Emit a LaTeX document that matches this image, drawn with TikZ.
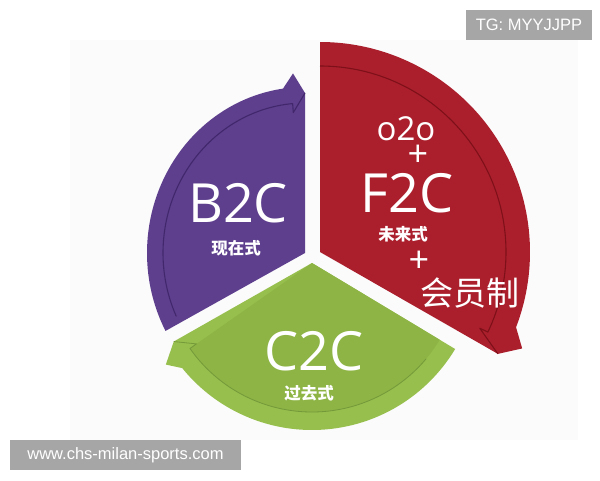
\documentclass[tikz,border=0pt]{standalone}
\usepackage{fontspec}
\setmainfont{Open Sans}
\newfontfamily\cjk{Noto Sans CJK SC}
\newfontfamily\wmfont{Liberation Sans}
\definecolor{purp}{HTML}{5D3F8D}
\definecolor{purpline}{HTML}{42276C}
\definecolor{redf}{HTML}{AB1F2D}
\definecolor{redline}{HTML}{7E1019}
\definecolor{greenf}{HTML}{8DB445}
\definecolor{greenrim}{HTML}{97BF4E}
\definecolor{greenline}{HTML}{74993A}
\definecolor{wmgray}{HTML}{A6A6A6}
\definecolor{bgpale}{HTML}{FBFBFB}
\tikzset{
  bigtxt/.style={text=white, inner sep=0pt, font=\fontsize{54}{60}\selectfont},
  midtxt/.style={text=white, inner sep=0pt, font=\fontsize{33}{38}\selectfont},
  plustxt/.style={text=white, inner sep=0pt, font=\fontsize{36}{38}\selectfont},
  smalltxt/.style={text=white, inner sep=0pt, font=\cjk\bfseries\fontsize{16.5}{18}\selectfont},
  cjkbig/.style={text=white, inner sep=0pt, font=\cjk\fontsize{33}{38}\selectfont},
  wmbox/.style={fill=wmgray, text=white, inner sep=0pt, font=\wmfont\fontsize{16.5}{18}\selectfont},
  rimline/.style={line width=1.1pt, line join=round}
}
\begin{document}
\begin{tikzpicture}[x=1pt,y=1pt]
\useasboundingbox (0,0) rectangle (600,-480);
\fill[white] (0,0) rectangle (600,-480);
\fill[bgpale] (70,-40) rectangle (578,-440);

% purple sector (B2C)
\begin{scope}[shift={(305,-253)}]
  \coordinate (papex) at (0,0);
  \fill[purp] (papex) -- (208:158 and 166) arc[start angle=208, end angle=98, x radius=158, y radius=166]
     -- (94:172 and 180) -- (90:160) -- cycle;
  \draw[purpline, rimline] (205:142 and 150) arc[start angle=205, end angle=95, x radius=142, y radius=150]
     -- (95:134 and 141) -- (90:160);
\end{scope}

% red sector (F2C)
\begin{scope}[shift={(320,-252)}]
  \coordinate (rapex) at (0,0);
  \fill[redf] (rapex) -- (90:210) arc[start angle=90, end angle=-21, radius=210]
     -- (-25.5:224) -- (-29.8:205) -- cycle;
  \draw[redline, rimline] (90:186) arc[start angle=90, end angle=-25.5, radius=186]
     -- (-25.5:177) -- (-29.8:205);
\end{scope}

% green sector (C2C)
\begin{scope}[shift={(312,-263)}]
  \coordinate (gapex) at (0,0);
  \fill[greenrim] (gapex) -- (-31:167) arc[start angle=-31, end angle=-141, radius=167]
     -- (-145.2:178) -- (-150.4:159) -- cycle;
  \fill[greenf] (gapex) -- (-31:149) arc[start angle=-31, end angle=-145, radius=149] -- cycle;
  \draw[greenline, line width=0.8pt, line join=round] (-40:149) arc[start angle=-40, end angle=-145, radius=149]
     -- (-145:141) -- (-150.4:159);
\end{scope}

% texts
\node[bigtxt] (b2c) at (238,-203) {B2C};
\node[smalltxt] (b2csub) at (236,-248) {现在式};
\node[midtxt] (o2o) at (406,-129) {o2o};
\node[plustxt] (plus1) at (418,-156) {+};
\node[bigtxt] (f2c) at (407,-193) {F2C};
\node[smalltxt] (f2csub) at (403,-234) {未来式};
\node[plustxt] (plus2) at (419,-262) {+};
\node[cjkbig] (hyz) at (470,-293) {会员制};
\node[bigtxt] (c2c) at (314,-351) {C2C};
\node[smalltxt] (c2csub) at (309,-393) {过去式};

% watermarks
\node[wmbox, minimum width=126pt, minimum height=30pt] (tg) at (529,-25) {TG: MYYJJPP};
\node[wmbox, minimum width=231pt, minimum height=30pt] (www) at (125.5,-455) {www.chs-milan-sports.com};
\end{tikzpicture}
\end{document}
